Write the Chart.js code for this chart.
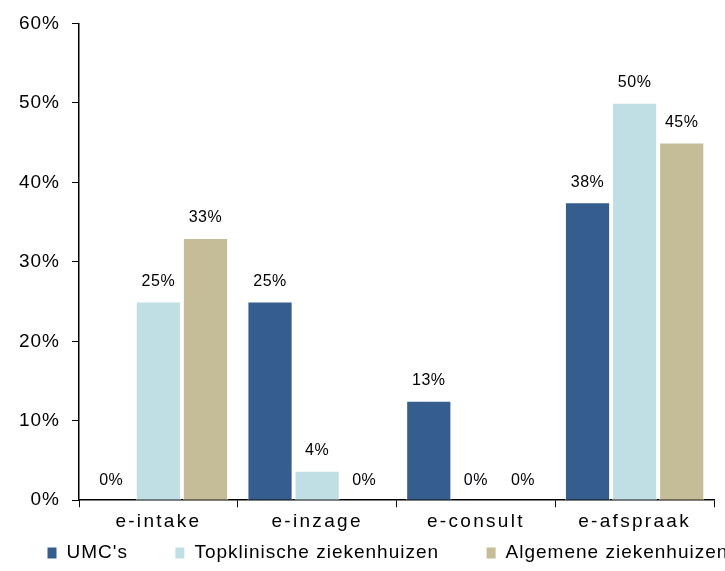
<!DOCTYPE html>
<html>
<head>
<meta charset="utf-8">
<script src="https://cdn.jsdelivr.net/npm/chart.js@4/dist/chart.umd.min.js"></script>
<style>
    html, body { margin: 0; padding: 0; background: #fff; overflow: hidden; }
    #wrap { width: 725px; height: 571px; }
</style>
</head>
<body>
<div id="wrap"><canvas id="grafico"></canvas></div>
<script>
// categorieen en waarden (percentages)
const categorieen = ['e-intake', 'e-inzage', 'e-consult', 'e-afspraak'];
const umcs = [0, 25, 12.5, 37.5];
const topklinisch = [25, 3.7, 0, 50];
const algemeen = [33, 0, 0, 45];
const yTicks = [0, 10, 20, 30, 40, 50, 60];

const kleuren = {
    umc: '#355E8F',
    top: '#C0DFE4',
    alg: '#C4BD97'
};

const lettertype = '"Liberation Sans", Arial, sans-serif';

// letterafstand zoals in het origineel (x-as labels staan nog wijder)
const spatiering = {
    id: 'spatiering',
    beforeLayout(chart) { chart.ctx.letterSpacing = '1px'; },
    beforeDraw(chart) {
        chart.ctx.letterSpacing = '1px';
        const x = chart.scales.x;
        if (!x._gespatieerd) {
            const origineel = x.drawLabels.bind(x);
            x.drawLabels = function (area) {
                const c = this.ctx;
                const oud = c.letterSpacing;
                c.letterSpacing = '2.3px';
                origineel(area);
                c.letterSpacing = oud;
            };
            x._gespatieerd = true;
        }
    }
};

// legenda op één regel houden (mag rechts buiten beeld lopen) en dichter bij de as
const legendaRegel = {
    id: 'legendaRegel',
    afterInit(chart) {
        const legend = chart.legend;
        const fit = legend.fit.bind(legend);
        const draw = legend.draw.bind(legend);
        legend.fit = function () {
            const breed = this.maxWidth;
            this.maxWidth = breed + 200;
            fit();
            this.maxWidth = breed;
            this.width = breed;
            this.height = 35;
        };
        legend.draw = function () {
            const t = this.top;
            const r = this.right;
            this.top = t + 17 - this.options.labels.padding - 9.5;
            this.right = r + 200;
            draw();
            this.top = t;
            this.right = r;
        };
    }
};

// labels boven de staven
const waardeLabels = {
    id: 'waardeLabels',
    afterDatasetsDraw(chart) {
        const ctx = chart.ctx;
        ctx.save();
        ctx.letterSpacing = '0.5px';
        ctx.font = '16px ' + lettertype;
        ctx.fillStyle = '#000';
        ctx.textAlign = 'center';
        ctx.textBaseline = 'middle';
        chart.data.datasets.forEach((ds, i) => {
            const meta = chart.getDatasetMeta(i);
            meta.data.forEach((bar, j) => {
                ctx.fillText(Math.round(ds.data[j]) + '%', bar.x, bar.y - 20);
            });
        });
        ctx.restore();
    }
};

const ctx = document.getElementById('grafico');
const grafiek = new Chart(ctx, {
    type: 'bar',
    data: {
        labels: categorieen,
        datasets: [
            { label: "UMC's", data: umcs, backgroundColor: kleuren.umc, borderColor: '#fff', borderWidth: 1 },
            { label: 'Topklinische ziekenhuizen', data: topklinisch, backgroundColor: kleuren.top, borderColor: '#fff', borderWidth: 1 },
            { label: 'Algemene ziekenhuizen', data: algemeen, backgroundColor: kleuren.alg, borderColor: '#fff', borderWidth: 1 }
        ]
    },
    options: {
        responsive: true,
        maintainAspectRatio: false,
        animation: false,
        categoryPercentage: 0.89,
        barPercentage: 0.96,
        layout: {
            padding: { left: 0, right: 11, top: 13, bottom: 0 }
        },
        plugins: {
            legend: {
                position: 'bottom',
                align: 'start',
                labels: {
                    boxWidth: 10,
                    boxHeight: 12,
                    padding: 47,
                    color: '#000',
                    font: { family: lettertype, size: 19 }
                }
            },
            tooltip: { enabled: false }
        },
        scales: {
            x: {
                grid: { drawOnChartArea: false, color: '#000', tickLength: 7 },
                border: { color: '#000', width: 1.5 },
                ticks: {
                    color: '#000',
                    padding: 3,
                    font: { family: lettertype, size: 19 }
                }
            },
            y: {
                min: 0,
                max: 60,
                afterBuildTicks(axis) {
                    axis.ticks = yTicks.map(v => ({ value: v }));
                },
                afterFit(axis) {
                    axis.width = 79; // as op dezelfde plek als het origineel
                },
                grid: { drawOnChartArea: false, color: '#000', tickLength: 7 },
                border: { color: '#000', width: 1.5 },
                ticks: {
                    color: '#000',
                    padding: 12,
                    font: { family: lettertype, size: 19 },
                    callback: v => v + '%'
                }
            }
        }
    },
    plugins: [spatiering, legendaRegel, waardeLabels]
});
</script>
</body>
</html>
